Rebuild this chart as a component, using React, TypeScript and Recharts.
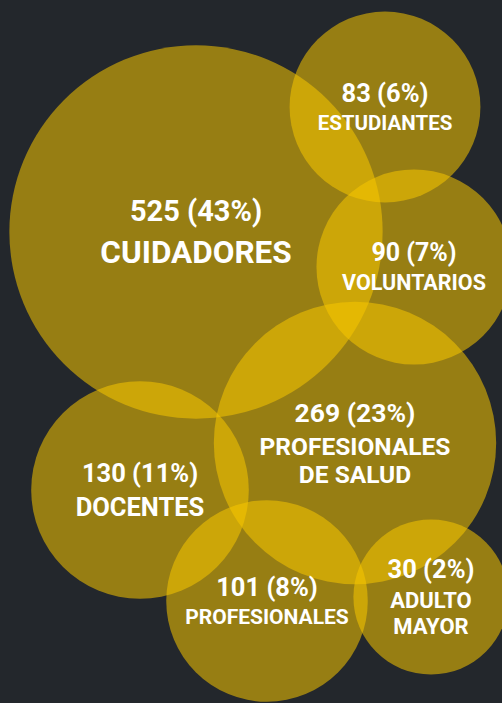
import { Scatter, ScatterChart, XAxis, YAxis, ZAxis } from "recharts";

document.body.style.margin = "0";

const BG = "#23272c";
const GOLD = "#f7c600";

// one entry per bubble
const categories = [
  "CUIDADORES",
  "ESTUDIANTES",
  "VOLUNTARIOS",
  "PROFESIONALES\nDE SALUD",
  "DOCENTES",
  "PROFESIONALES",
  "ADULTO\nMAYOR",
];
const counts = [525, 83, 90, 269, 130, 101, 30];
const percents = [43, 6, 7, 23, 11, 8, 2];
const centerX = [196, 385, 414, 355, 140, 267, 431];
const centerY = [232, 107, 267, 443, 490, 601, 597];

// [number line, name lines] font sizes
const labelSizes: Record<string, [number, number]> = {
  CUIDADORES: [29, 31.5],
  ESTUDIANTES: [25.5, 20.5],
  VOLUNTARIOS: [25, 21.5],
  "PROFESIONALES\nDE SALUD": [26.5, 24.5],
  DOCENTES: [25.5, 25.5],
  PROFESIONALES: [25.5, 21],
  "ADULTO\nMAYOR": [25.5, 22],
};

const data = categories.map((name, i) => ({
  name,
  count: counts[i],
  pct: percents[i],
  x: centerX[i],
  y: centerY[i],
}));

function Bubble(props: any) {
  const { cx, cy, width } = props;
  return <circle cx={cx} cy={cy} r={width / 2} fill={GOLD} fillOpacity={0.55} />;
}

function BubbleLabel(props: any) {
  const { cx, cy, payload } = props;
  const [numSize, nameSize] = labelSizes[payload.name];
  const lines = [
    { text: `${payload.count} (${payload.pct}%)`, size: numSize },
    ...payload.name.split("\n").map((t: string) => ({ text: t, size: nameSize })),
  ];
  const cap = 0.711;
  let total = 0;
  const baselines: number[] = [];
  lines.forEach((l, i) => {
    if (i === 1) total += l.size * 0.55 + 2;
    if (i > 1) total += l.size * 0.45;
    total += l.size * cap;
    baselines.push(total);
  });
  const top = cy - total / 2;
  return (
    <g>
      {lines.map((l, i) => (
        <text
          key={i}
          x={cx}
          y={top + baselines[i]}
          textAnchor="middle"
          fill="#ffffff"
          fontSize={l.size}
          fontWeight={700}
          fontFamily="Roboto, sans-serif"
        >
          {l.text}
        </text>
      ))}
    </g>
  );
}

export default function App() {
  return (
    <div style={{ width: 502, height: 703, background: BG }}>
      <ScatterChart
        width={502}
        height={703}
        margin={{ top: 0, right: 0, bottom: 0, left: 0 }}
      >
        <XAxis type="number" dataKey="x" domain={[0, 502]} hide />
        <YAxis type="number" dataKey="y" domain={[0, 703]} reversed hide />
        <ZAxis type="number" dataKey="count" domain={[30, 525]} range={[18912, 109422]} />
        <Scatter data={data} shape={<Bubble />} isAnimationActive={false} />
        <Scatter data={data} shape={<BubbleLabel />} isAnimationActive={false} />
      </ScatterChart>
    </div>
  );
}
